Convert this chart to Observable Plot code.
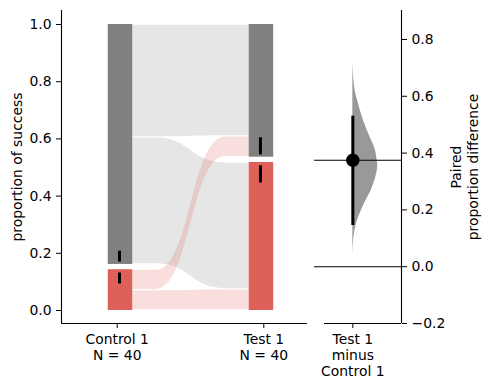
<!DOCTYPE html>
<html><head><meta charset="utf-8">
<script src="https://cdn.jsdelivr.net/npm/d3@7"></script>
<script src="https://cdn.jsdelivr.net/npm/@observablehq/plot@0.6"></script>
<style>
body{margin:0;background:#fff;}
#chart{position:relative;width:490px;height:390px;background:#fff;}
#chart svg{position:absolute;top:0;}
</style></head><body><div id="chart"></div>
<script>
// ---- data ----
const groups = ["Control 1", "Test 1"];
const groupN = [40, 40];
const successProp = [0.15, 0.525];
const successSE = [0.057, 0.079];
// paired transitions (counts) control state -> test state
const flowFrom = ["success", "success", "failure", "failure"];
const flowTo = ["success", "failure", "success", "failure"];
const flowCount = [3, 3, 18, 16];
const deltaLabel = "Test 1\nminus\nControl 1";
const deltaMean = 0.375;
const deltaCI = [0.145, 0.53];
// bootstrap distribution profile (relative density)
const bootY = [0.722, 0.628, 0.569, 0.511, 0.452, 0.417, 0.37, 0.355, 0.335, 0.276, 0.217, 0.158, 0.101, 0.041];
const bootDensity = [0, 0.08, 0.24, 0.44, 0.71, 0.88, 0.98, 1.0, 0.97, 0.77, 0.44, 0.17, 0.04, 0];
const leftTicks = [0, 0.2, 0.4, 0.6, 0.8, 1.0];
const rightTicks = [-0.2, 0, 0.2, 0.4, 0.6, 0.8];

// ---- styling / geometry constants ----
const RED = "rgb(221,97,88)", GREY = "#808080";
const FS = 13.9;
const barHalf = 0.0835;
const barShift = [0.0225, -0.016];
const gapLo = 0.0075, gapHi = 0.011;
const flowInset = 0.0022;
const colorOf = s => s === "success" ? RED : GREY;

// bars
const bars = [];
groups.forEach((g, i) => {
  const c = i + barShift[i];
  bars.push({x1: c - barHalf, x2: c + barHalf, y1: 0, y2: successProp[i] - gapLo, fill: RED});
  bars.push({x1: c - barHalf, x2: c + barHalf, y1: successProp[i] + gapHi, y2: 1, fill: GREY});
});
const segOf = (i, s) => s === "success" ? [0, successProp[i] - gapLo] : [successProp[i] + gapHi, 1];

// flows
const order = s => s === "success" ? 0 : 1;
function sidePositions(side) { // side 0: control (from), 1: test (to)
  const own = side === 0 ? flowFrom : flowTo, other = side === 0 ? flowTo : flowFrom;
  const pos = [];
  ["success", "failure"].forEach(state => {
    const idx = flowCount.map((c, k) => k).filter(k => own[k] === state)
      .sort((a, b) => order(other[a]) - order(other[b]));
    const total = d3.sum(idx, k => flowCount[k]);
    const [s0, s1] = segOf(side, state);
    let acc = 0;
    idx.forEach(k => {
      const a = s0 + (s1 - s0) * acc / total;
      acc += flowCount[k];
      const b = s0 + (s1 - s0) * acc / total;
      pos[k] = [a + flowInset, b - flowInset];
    });
  });
  return pos;
}
const pC = sidePositions(0), pT = sidePositions(1);
const xa = 0 + barShift[0] + barHalf, xb = 1 + barShift[1] - barHalf;
const flat = 0.2 * (xb - xa);
const flowPts = [];
const flowOrder = [2, 3, 0, 1];
flowOrder.forEach(k => {
  const xs = [xa, xa + flat, xb - flat, xb];
  const ys = [pC[k], pC[k], pT[k], pT[k]];
  xs.forEach((x, j) => flowPts.push({k, x, y1: ys[j][0], y2: ys[j][1], fill: colorOf(flowFrom[k])}));
});

// error bars (gap around mean)
const gap = 0.019;
const errs = [];
groups.forEach((g, i) => {
  const c = i + barShift[i] - 0.007;
  errs.push({x: c, y1: successProp[i] - successSE[i], y2: successProp[i] - gap});
  errs.push({x: c, y1: successProp[i] + gap, y2: successProp[i] + successSE[i]});
});

const style = {fontFamily: "DejaVu Sans", fontSize: FS + "px", background: "white", overflow: "visible", color: "black"};

const left = Plot.plot({
  width: 310, height: 390,
  marginLeft: 61, marginRight: 3, marginTop: 10, marginBottom: 67,
  style,
  x: {domain: [-0.38, 1.298], axis: null},
  y: {domain: [-0.0455, 1.049], axis: null},
  marks: [
    Plot.areaY(flowPts, {x: "x", y1: "y1", y2: "y2", z: "k", fill: "fill", fillOpacity: 0.2, curve: "bump-x"}),
    Plot.rect(bars, {x1: "x1", x2: "x2", y1: "y1", y2: "y2", fill: "fill"}),
    Plot.ruleX(errs, {x: "x", y1: "y1", y2: "y2", stroke: "black", strokeWidth: 3}),
    Plot.ruleX([-0.38], {stroke: "black", strokeWidth: 1.1}),
    Plot.ruleY([-0.0455], {stroke: "black", strokeWidth: 1.1}),
    Plot.axisY({ticks: leftTicks, tickFormat: d3.format(".1f"), tickSize: 5, tickPadding: 5, label: null, fontSize: FS}),
    Plot.axisX({ticks: [0, 1], tickFormat: i => `${groups[i]}\nN = ${groupN[i]}`, tickSize: 5, tickPadding: 4, label: null, fontSize: FS, lineHeight: 1.15}),
    Plot.text(["proportion of success"], {text: d => d, frameAnchor: "left", dx: -44, rotate: -90, textAnchor: "middle", lineAnchor: "middle", fontSize: FS})
  ]
});

const violinW = 0.652;
const boot = bootY.map((y, i) => ({y, d: bootDensity[i]}));
const right = Plot.plot({
  width: 180, height: 390,
  marginLeft: 4, marginRight: 89, marginTop: 10, marginBottom: 67,
  style,
  x: {domain: [-1, 1.27], axis: null},
  y: {domain: [-0.2, 0.902], axis: null},
  marks: [
    Plot.areaX(boot, {y: "y", x1: 0, x2: d => d.d * violinW, fill: "#999999", curve: "monotone-y"}),
    Plot.ruleY([0, deltaMean], {x1: -1, x2: 1.27, stroke: "black", strokeWidth: 1.1}),
    Plot.ruleX([0], {y1: deltaCI[0], y2: deltaCI[1], stroke: "black", strokeWidth: 3}),
    Plot.dot([deltaMean], {x: 0, y: d => d, r: 6.7, fill: "black", stroke: "none"}),
    Plot.ruleX([1.27], {stroke: "black", strokeWidth: 1.1}),
    Plot.ruleY([-0.2], {x1: -0.739, x2: 1.27, stroke: "black", strokeWidth: 1.1}),
    Plot.axisY({anchor: "right", ticks: rightTicks, tickFormat: d3.format(".1f"), tickSize: 5, tickPadding: 5, label: null, fontSize: FS}),
    Plot.axisX({ticks: [0], tickFormat: () => deltaLabel, tickSize: 5, tickPadding: 4, label: null, fontSize: FS, lineHeight: 1.15}),
    Plot.text(["Paired\nproportion difference"], {text: d => d, frameAnchor: "right", dx: 62.5, rotate: -90, textAnchor: "middle", lineAnchor: "middle", fontSize: FS, lineHeight: 1.2})
  ]
});

const chart = document.getElementById("chart");
left.style.left = "0px";
right.style.left = "310px";
chart.appendChild(left);
chart.appendChild(right);
</script>
</body></html>
